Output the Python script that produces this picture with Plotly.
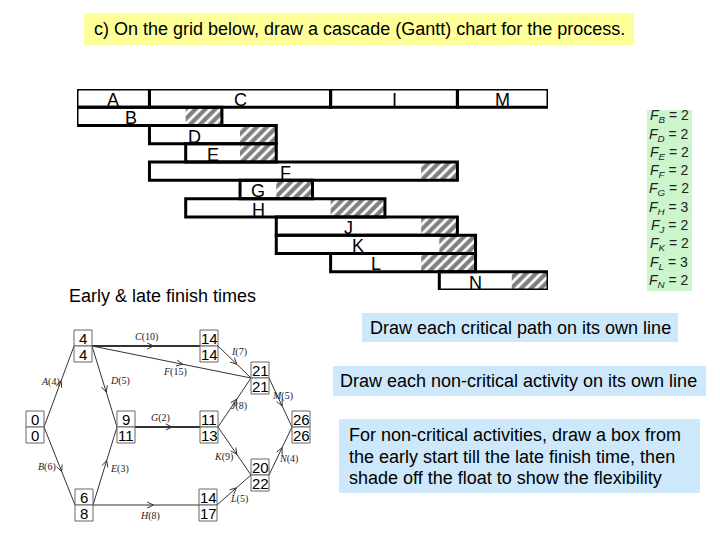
import math
import plotly.graph_objects as go

# The page body has an 8px default margin, so the figure is drawn 8px in.
OFF = 8
W, H = 720 - OFF, 540 - OFF

# ---------------- data ----------------
tasks = ["A", "B", "C", "D", "E", "F", "G", "H", "I", "J", "K", "L", "M", "N"]
durations = [4, 6, 10, 5, 3, 15, 2, 8, 7, 8, 9, 5, 5, 4]
early_start = [0, 0, 4, 4, 6, 4, 9, 6, 14, 11, 11, 14, 21, 20]
late_finish = [4, 8, 14, 11, 11, 21, 13, 17, 21, 21, 22, 22, 26, 26]
critical_path = ["A", "C", "I", "M"]
noncritical_rows = ["B", "D", "E", "F", "G", "H", "J", "K", "L", "N"]

event_early = [0, 4, 6, 9, 14, 11, 14, 21, 20, 26]
event_late = [0, 4, 8, 11, 14, 13, 17, 21, 22, 26]
edge_tasks = ["A", "B", "C", "D", "E", "F", "G", "H", "I", "J", "K", "L", "M", "N"]
edge_from = [0, 0, 1, 1, 2, 1, 3, 2, 4, 5, 5, 6, 7, 8]
edge_to = [1, 2, 4, 3, 3, 7, 5, 6, 7, 7, 8, 8, 9, 9]

title_text = "c) On the grid below, draw a cascade (Gantt) chart for the process."
subtitle_text = "Early &amp; late finish times"
note1 = "Draw each critical path on its own line"
note2 = "Draw each non-critical activity on its own line"
note3_lines = ["For non-critical activities, draw a box from",
               "the early start till the late finish time, then",
               "shade off the float to show the flexibility"]

# ---------------- layout helpers (page pixels -> paper) ----------------
def px(x):
    return (x - OFF) / W

def py(y):
    return 1 - (y - OFF) / H

FONT = "Liberation Sans, Arial, sans-serif"
SERIF = "Liberation Serif, Times New Roman, serif"

fig = go.Figure()
shapes = []
annotations = []

def note(x, y, text, size=18, xanchor="center", xref="paper", yref="paper", family=FONT,
         color="black"):
    annotations.append(dict(x=x, y=y, xref=xref, yref=yref, text=text, showarrow=False,
                            xanchor=xanchor, yanchor="middle",
                            font=dict(family=family, size=size, color=color)))

# ---------------- Gantt (cascade) chart ----------------
idx = {t: i for i, t in enumerate(tasks)}
row_of = {t: 0 for t in critical_path}
for r, t in enumerate(noncritical_rows, start=1):
    row_of[t] = r

hatch_y, hatch_base, hatch_len = [], [], []
box_y, box_base, box_len = [], [], []
for t in tasks:
    i = idx[t]
    es = early_start[i]
    ef = es + durations[i]
    lf = late_finish[i]
    r = row_of[t]
    box_y.append(r); box_base.append(es); box_len.append(lf - es)
    if lf > ef:
        hatch_y.append(r); hatch_base.append(ef); hatch_len.append(lf - ef)
    note(es + durations[i] / 2, r + 0.1, t, size=18, xref="x", yref="y")

fig.add_trace(go.Bar(orientation="h", y=hatch_y, x=hatch_len, base=hatch_base,
                     width=1, xaxis="x", yaxis="y",
                     marker=dict(color="white",
                                 pattern=dict(shape="/", fgcolor="black", bgcolor="white",
                                              size=7, solidity=0.6),
                                 line=dict(width=0)),
                     hoverinfo="skip", showlegend=False))
fig.add_trace(go.Bar(orientation="h", y=box_y, x=box_len, base=box_base,
                     width=1, xaxis="x", yaxis="y",
                     marker=dict(color="rgba(0,0,0,0)", line=dict(color="black", width=3)),
                     hoverinfo="skip", showlegend=False))

# float table
shapes.append(dict(type="rect", xref="paper", yref="paper",
                   x0=px(647), x1=px(692), y0=py(291), y1=py(110),
                   fillcolor="#ccf5cc", line=dict(width=0), layer="below"))
for t in noncritical_rows:
    i = idx[t]
    flt = late_finish[i] - early_start[i] - durations[i]
    annotations.append(dict(x=px(669), y=row_of[t], xref="paper", yref="y",
                            text=f"<i>F</i><sub><i>{t}</i></sub> = {flt}",
                            showarrow=False, xanchor="center", yanchor="middle",
                            font=dict(family=FONT, size=14, color="#222")))

# ---------------- network diagram (page-pixel axes x2/y2) ----------------
node_layout = [(26, 411), (74, 330), (75, 489), (117, 411), (200, 330),
               (200, 411), (199, 489), (251, 362), (251, 459), (292, 411)]
NW, NH = 18, 32
label_layout = {"A": (50, 382), "B": (47, 467), "C": (146, 337), "D": (120, 381),
                "E": (119, 469), "F": (175, 372), "G": (160, 418), "H": (150, 516),
                "I": (239, 352), "J": (239, 406), "K": (223, 457), "L": (239, 499),
                "M": (282, 396), "N": (288, 459)}
thick_edges = ["C", "G"]

for k, t in enumerate(edge_tasks):
    sx, sy = node_layout[edge_from[k]]
    tx, ty = node_layout[edge_to[k]]
    x0, y0 = sx + NW, sy + NH / 2
    x1, y1 = tx, ty + NH / 2
    w = 1.8 if t in thick_edges else 1
    fig.add_trace(go.Scatter(x=[x0, x1], y=[y0, y1], mode="lines", xaxis="x2", yaxis="y2",
                             line=dict(color="#333", width=w),
                             hoverinfo="skip", showlegend=False))
    ang = math.atan2(y1 - y0, x1 - x0)
    mx, my = x0 + 0.57 * (x1 - x0), y0 + 0.57 * (y1 - y0)
    L = 7
    ax = [mx - L * math.cos(ang - 0.45), mx, mx - L * math.cos(ang + 0.45)]
    ay = [my - L * math.sin(ang - 0.45), my, my - L * math.sin(ang + 0.45)]
    fig.add_trace(go.Scatter(x=ax, y=ay, mode="lines", xaxis="x2", yaxis="y2",
                             line=dict(color="#333", width=1),
                             hoverinfo="skip", showlegend=False))
    lx, ly = label_layout[t]
    note(lx, ly, f"<i>{t}</i>({durations[idx[t]]})", size=10, xref="x2", yref="y2",
         family=SERIF, color="#222")

for n, (nx, ny) in enumerate(node_layout):
    for c in range(2):
        shapes.append(dict(type="rect", xref="x2", yref="y2",
                           x0=nx, x1=nx + NW, y0=ny + c * NH / 2, y1=ny + (c + 1) * NH / 2,
                           fillcolor="white", line=dict(color="#666", width=1)))
    note(nx + NW / 2, ny + NH / 4 + 0.5, str(event_early[n]), size=15, xref="x2", yref="y2")
    note(nx + NW / 2, ny + 3 * NH / 4 + 0.5, str(event_late[n]), size=15, xref="x2", yref="y2")

# ---------------- text boxes ----------------
shapes.append(dict(type="rect", xref="paper", yref="paper",
                   x0=px(84), x1=px(634), y0=py(45), y1=py(13),
                   fillcolor="#ffff99", line=dict(width=0), layer="below"))
note(px(359), py(29), title_text)
note(px(67), py(296), subtitle_text, xanchor="left")

BLUE = "#cde8fb"
shapes.append(dict(type="rect", xref="paper", yref="paper",
                   x0=px(362), x1=px(678), y0=py(342), y1=py(313),
                   fillcolor=BLUE, line=dict(width=0), layer="below"))
note(px(520), py(328), note1)
shapes.append(dict(type="rect", xref="paper", yref="paper",
                   x0=px(333), x1=px(706), y0=py(396), y1=py(366),
                   fillcolor=BLUE, line=dict(width=0), layer="below"))
note(px(519), py(381), note2)
shapes.append(dict(type="rect", xref="paper", yref="paper",
                   x0=px(339), x1=px(700), y0=py(493), y1=py(419),
                   fillcolor=BLUE, line=dict(width=0), layer="below"))
for j, line in enumerate(note3_lines):
    note(px(347), py(435 + 21.5 * j), line, xanchor="left")

fig.update_layout(
    width=W, height=H, margin=dict(l=0, r=0, t=0, b=0),
    paper_bgcolor="white", plot_bgcolor="rgba(0,0,0,0)",
    barmode="overlay", showlegend=False,
    xaxis=dict(domain=[px(77), px(548)], range=[0, 26], visible=False, fixedrange=True),
    yaxis=dict(domain=[py(290), py(89)], range=[10.5, -0.5], visible=False, fixedrange=True),
    xaxis2=dict(domain=[0, 1], range=[OFF, OFF + W], visible=False, fixedrange=True,
                anchor="y2"),
    yaxis2=dict(domain=[0, 1], range=[OFF + H, OFF], visible=False, fixedrange=True,
                anchor="x2"),
    shapes=shapes, annotations=annotations,
)

fig.write_html("out.html")
